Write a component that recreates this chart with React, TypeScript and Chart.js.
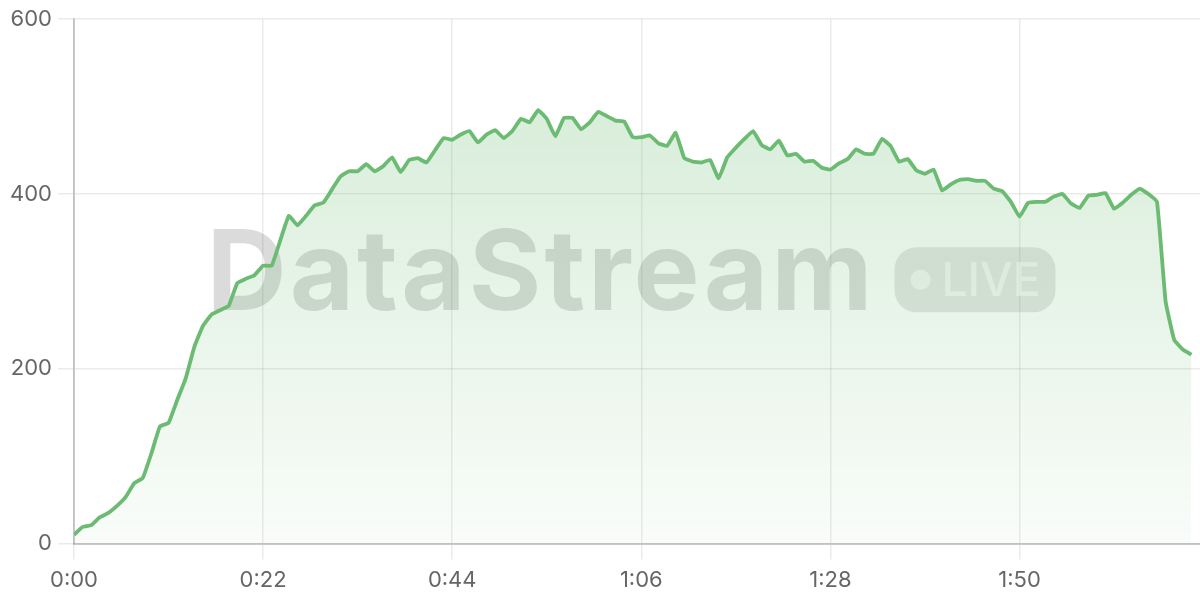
import React, { useEffect, useRef } from "react";
import { Chart, registerables } from "chart.js";

Chart.register(...registerables);

// one sample per second, starting at 0:00
const stepSeconds = 1;
const values: number[] = [
  10, 19, 21, 30, 35, 43, 53, 69, 75, 103,
  134, 138, 164, 189, 225, 249, 262, 267, 272, 298,
  303, 307, 318, 318, 347, 375, 364, 375, 387, 390,
  405, 420, 426, 426, 434, 426, 432, 442, 425, 439,
  441, 436, 450, 464, 462, 468, 472, 459, 468, 473,
  464, 472, 486, 482, 496, 486, 466, 487, 487, 474,
  482, 494, 489, 484, 483, 465, 465, 467, 458, 455,
  470, 441, 437, 436, 439, 418, 442, 453, 463, 472,
  456, 451, 461, 444, 446, 437, 438, 430, 428, 435,
  440, 451, 446, 446, 463, 455, 437, 440, 427, 423,
  428, 404, 411, 416, 417, 415, 415, 406, 403, 391,
  374, 390, 391, 391, 397, 400, 389, 384, 398, 399,
  401, 383, 390, 399, 406, 400, 391, 277, 233, 222,
  216,
];
const xTickSeconds: number[] = [0, 22, 44, 66, 88, 110];
const yTicks: number[] = [0, 200, 400, 600];
const watermarkText = "DataStream";
const badgeText = "LIVE";

const fmt = (s: number) => {
  const m = Math.floor(s / 60);
  const ss = Math.round(s % 60);
  return `${m}:${ss < 10 ? "0" : ""}${ss}`;
};

const watermarkPlugin = {
  id: "watermark",
  beforeDatasetsDraw(chart: any) {
    const { ctx, chartArea } = chart;
    const cx = (chartArea.left + chartArea.right) / 2;
    const cy = (chartArea.top + chartArea.bottom) / 2;
    ctx.save();
    ctx.font = "bold 111px Inter";
    (ctx as any).letterSpacing = "3px";
    const tw = ctx.measureText(watermarkText).width;
    const badgeW = 161;
    const badgeH = 65;
    const gap = 19;
    const total = tw + gap + badgeW;
    const startX = cx - total / 2 - 6;
    const baseline = cy + 28.5;
    ctx.fillStyle = "rgba(0,0,0,0.14)";
    ctx.textBaseline = "alphabetic";
    ctx.textAlign = "left";
    ctx.fillText(watermarkText, startX, baseline);
    (ctx as any).letterSpacing = "0px";
    // badge
    const bx = startX + tw + gap;
    const by = cy - 34;
    const r = 22;
    ctx.beginPath();
    ctx.moveTo(bx + r, by);
    ctx.lineTo(bx + badgeW - r, by);
    ctx.arcTo(bx + badgeW, by, bx + badgeW, by + r, r);
    ctx.lineTo(bx + badgeW, by + badgeH - r);
    ctx.arcTo(bx + badgeW, by + badgeH, bx + badgeW - r, by + badgeH, r);
    ctx.lineTo(bx + r, by + badgeH);
    ctx.arcTo(bx, by + badgeH, bx, by + badgeH - r, r);
    ctx.lineTo(bx, by + r);
    ctx.arcTo(bx, by, bx + r, by, r);
    ctx.closePath();
    ctx.fillStyle = "rgba(0,0,0,0.10)";
    ctx.fill();
    ctx.fillStyle = "rgba(255,255,255,0.6)";
    ctx.beginPath();
    ctx.arc(bx + 26, by + badgeH / 2, 10, 0, Math.PI * 2);
    ctx.fill();
    ctx.font = "500 46px Inter";
    ctx.textBaseline = "middle";
    ctx.fillText(badgeText, bx + 47, by + badgeH / 2 + 2);
    ctx.restore();
  },
};

export default function App() {
  const ref = useRef<HTMLCanvasElement | null>(null);

  useEffect(() => {
    document.body.style.margin = "0";
    if (!ref.current) return;
    const green = "rgb(108,187,114)";
    const chart = new Chart(ref.current, {
      type: "line",
      data: {
        datasets: [
          {
            data: values.map((v, i) => ({ x: i * stepSeconds, y: v })),
            borderColor: green,
            borderWidth: 3.8,
            pointRadius: 0,
            tension: 0.1,
            fill: "origin",
            backgroundColor: (c: any) => {
              const { chart } = c;
              const { ctx, chartArea } = chart;
              if (!chartArea) return "rgba(108,187,114,0.15)";
              const g = ctx.createLinearGradient(0, chartArea.top, 0, chartArea.bottom);
              g.addColorStop(0, "rgba(108,187,114,0.30)");
              g.addColorStop(1, "rgba(108,187,114,0.04)");
              return g;
            },
          },
        ],
      },
      options: {
        animation: false,
        responsive: false,
        devicePixelRatio: 1,
        layout: { padding: { top: 19, right: 0, bottom: 0, left: 0 } },
        plugins: { legend: { display: false }, tooltip: { enabled: false } },
        scales: {
          x: {
            type: "linear",
            min: 0,
            max: 131,
            afterBuildTicks: (s: any) => {
              s.ticks = xTickSeconds.map((v) => ({ value: v }));
            },
            afterFit: (s: any) => {
              s.height = 56.5;
            },
            grid: { color: "rgba(0,0,0,0.08)", tickLength: 16, lineWidth: 1.5 },
            border: { color: "rgba(0,0,0,0.18)", width: 2 },
            ticks: {
              color: "#666",
              font: { family: "Inter", size: 22 },
              padding: 8,
              maxRotation: 0,
              callback: (v: any) => fmt(Number(v)),
            },
          },
          y: {
            min: 0,
            max: 600,
            afterBuildTicks: (s: any) => {
              s.ticks = yTicks.map((v) => ({ value: v }));
            },
            afterFit: (s: any) => {
              s.width = 74;
            },
            grid: { color: "rgba(0,0,0,0.08)", tickLength: 16, lineWidth: 1.5 },
            border: { color: "rgba(0,0,0,0.18)", width: 2 },
            ticks: {
              color: "#666",
              font: { family: "Inter", size: 22 },
              padding: 6,
            },
          },
        },
      },
      plugins: [watermarkPlugin],
    });
    return () => chart.destroy();
  }, []);

  return (
    <div style={{ position: "absolute", left: 0, top: 0, width: 1200, height: 600 }}>
      <canvas ref={ref} width={1200} height={600} style={{ width: 1200, height: 600 }} />
    </div>
  );
}
